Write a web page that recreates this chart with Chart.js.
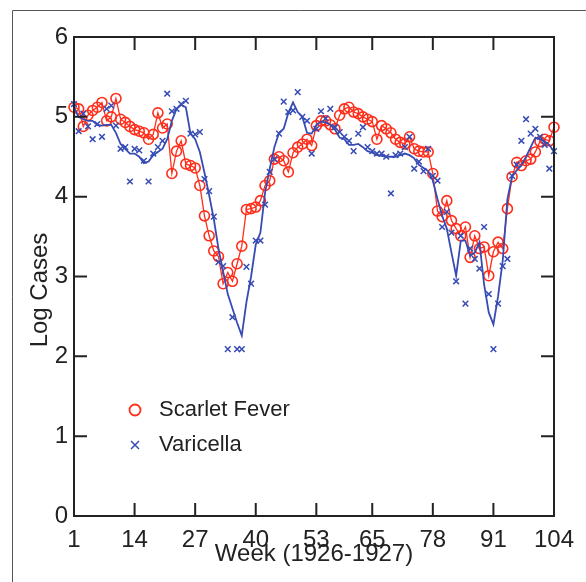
<!DOCTYPE html>
<html>
<head>
<meta charset="utf-8">
<script src="https://cdn.jsdelivr.net/npm/chart.js@4.4.1/dist/chart.umd.min.js"></script>
<style>
html, body { margin: 0; padding: 0; background: #fff; }
#wrap { position: relative; width: 586px; height: 582px; }
</style>
</head>
<body>
<div id="wrap"><canvas id="chart" width="586" height="582"></canvas></div>
<script>
// weeks 1..104 of 1926-1927
const weeks = Array.from({ length: 104 }, (_, i) => i + 1);
const xTicks = [1, 14, 27, 40, 53, 65, 78, 91, 104];
const yTicks = [0, 1, 2, 3, 4, 5, 6];

// log cases
const scarletFever = [
  5.12, 5.10, 4.88, 5.02, 5.08, 5.12, 5.18, 4.95, 5.00, 5.23,
  4.97, 4.93, 4.88, 4.84, 4.82, 4.80, 4.72, 4.78, 5.05, 4.86,
  4.91, 4.29, 4.57, 4.70, 4.41, 4.39, 4.36, 4.14, 3.76, 3.51,
  3.32, 3.25, 2.91, 3.05, 2.94, 3.16, 3.38, 3.84, 3.85, 3.87,
  3.95, 4.14, 4.20, 4.47, 4.50, 4.45, 4.31, 4.55, 4.62, 4.66,
  4.72, 4.64, 4.89, 4.95, 4.95, 4.90, 4.85, 5.02, 5.10, 5.12,
  5.06, 5.04, 5.00, 4.97, 4.94, 4.72, 4.89, 4.85, 4.80, 4.72,
  4.68, 4.66, 4.75, 4.60, 4.57, 4.56, 4.56, 4.29, 3.82, 3.75,
  3.95, 3.70, 3.60, 3.51, 3.62, 3.24, 3.51, 3.35, 3.37, 3.01,
  3.31, 3.43, 3.35, 3.85, 4.25, 4.43, 4.39, 4.45, 4.47, 4.56,
  4.69, 4.72, 4.70, 4.87
];

const varicella = [
  5.16, 4.82, 5.04, 4.88, 4.72, 4.91, 4.75, 5.10, 5.14, 4.89,
  4.60, 4.62, 4.19, 4.60, 4.58, 4.45, 4.19, 4.54, 4.62, 4.70,
  5.29, 5.07, 5.10, 5.16, 5.20, 4.79, 4.78, 4.81, 4.22, 4.07,
  3.75, 3.18, 3.13, 2.09, 2.49, 2.09, 2.09, 3.12, 2.91, 3.45,
  3.45, 3.90, 4.31, 4.47, 4.79, 5.19, 5.06, 5.08, 5.31, 5.00,
  4.95, 4.54, 4.85, 5.07, 4.98, 5.10, 4.87, 4.81, 4.75, 4.70,
  4.57, 4.79, 4.87, 4.62, 4.57, 4.54, 4.54, 4.50, 4.04, 4.52,
  4.54, 4.62, 4.75, 4.35, 4.44, 4.32, 4.60, 4.26, 4.20, 3.62,
  3.81, 3.55, 2.94, 3.51, 2.66, 3.35, 3.22, 3.10, 3.62, 2.78,
  2.09, 2.66, 3.13, 3.22, 4.26, 4.40, 4.70, 4.97, 4.79, 4.85,
  4.75, 4.65, 4.35, 4.57
];

// model curve for varicella
const varicellaFit = [
  5.12, 5.00, 4.97, 4.95, 4.95, 4.90, 4.89, 4.90, 4.90, 4.80,
  4.66, 4.60, 4.54, 4.54, 4.50, 4.42, 4.44, 4.52, 4.56, 4.60,
  4.72, 4.95, 5.10, 5.15, 5.12, 4.79, 4.72, 4.56, 4.30, 4.02,
  3.72, 3.35, 3.06, 2.78, 2.60, 2.42, 2.26, 2.68, 3.00, 3.40,
  3.55, 4.05, 4.35, 4.62, 4.80, 4.85, 5.05, 5.18, 5.06, 5.00,
  4.80, 4.79, 4.90, 4.94, 4.93, 4.90, 4.84, 4.74, 4.72, 4.65,
  4.65, 4.66, 4.62, 4.57, 4.55, 4.52, 4.51, 4.50, 4.50, 4.50,
  4.52, 4.54, 4.52, 4.48, 4.40, 4.36, 4.32, 4.20, 3.97, 3.76,
  3.60, 3.30, 3.01, 3.45, 3.45, 3.26, 3.30, 3.43, 2.90, 2.55,
  2.40, 2.75, 3.20, 3.97, 4.25, 4.33, 4.39, 4.50, 4.62, 4.74,
  4.72, 4.69, 4.65, 4.56
];

const RED = "rgb(255, 45, 25)";
const BLUE = "rgb(55, 75, 180)";
const INK = "#222";
const FONT = "'Liberation Sans', Arial, sans-serif";

const toPoints = (ys) => weeks.map((w, i) => ({ x: w, y: ys[i] }));

const boxPlugin = {
    id: "box",
    beforeDraw(chart) {
        const ctx = chart.ctx;
        ctx.save();
        ctx.fillStyle = "#fff";
        ctx.fillRect(0, 0, chart.width, chart.height);
        // outer frame of the figure (left and top edges visible)
        ctx.strokeStyle = "#555";
        ctx.lineWidth = 1;
        ctx.beginPath();
        ctx.moveTo(12.5, chart.height);
        ctx.lineTo(12.5, 10.5);
        ctx.lineTo(chart.width, 10.5);
        ctx.stroke();
        ctx.restore();
    },
    afterDatasetsDraw(chart) {
        const { ctx, chartArea: a, scales } = chart;
        const tick = 13;
        ctx.save();
        ctx.strokeStyle = INK;
        ctx.lineWidth = 2;
        ctx.strokeRect(a.left, a.top, a.right - a.left, a.bottom - a.top);
        ctx.beginPath();
        xTicks.forEach((v) => {
            const px = scales.x.getPixelForValue(v);
            ctx.moveTo(px, a.bottom);
            ctx.lineTo(px, a.bottom - tick);
            ctx.moveTo(px, a.top);
            ctx.lineTo(px, a.top + tick);
        });
        yTicks.forEach((v) => {
            const py = scales.y.getPixelForValue(v);
            ctx.moveTo(a.left, py);
            ctx.lineTo(a.left + tick, py);
            ctx.moveTo(a.right, py);
            ctx.lineTo(a.right - tick, py);
        });
        ctx.stroke();

        // y axis title
        ctx.fillStyle = INK;
        ctx.font = "24px " + FONT;
        ctx.textAlign = "center";
        ctx.textBaseline = "middle";
        ctx.translate(a.left - 34, a.top + 253);
        ctx.rotate(-Math.PI / 2);
        ctx.fillText("Log Cases", 0, 0);
        ctx.restore();

        // legend
        ctx.save();
        const lx = a.left + 61;
        const ly1 = a.top + 373;
        const ly2 = a.top + 408;
        ctx.strokeStyle = RED;
        ctx.lineWidth = 1.8;
        ctx.beginPath();
        ctx.arc(lx, ly1, 5.5, 0, Math.PI * 2);
        ctx.stroke();
        ctx.strokeStyle = BLUE;
        ctx.lineWidth = 1.5;
        ctx.beginPath();
        ctx.moveTo(lx - 4, ly2 - 4);
        ctx.lineTo(lx + 4, ly2 + 4);
        ctx.moveTo(lx - 4, ly2 + 4);
        ctx.lineTo(lx + 4, ly2 - 4);
        ctx.stroke();
        ctx.fillStyle = INK;
        ctx.font = "22px " + FONT;
        ctx.textAlign = "left";
        ctx.textBaseline = "middle";
        ctx.fillText("Scarlet Fever", lx + 24, ly1);
        ctx.fillText("Varicella", lx + 24, ly2);
        ctx.restore();
    },
};

new Chart(document.getElementById("chart"), {
    type: "line",
    data: {
        datasets: [
            {
                label: "Varicella model",
                data: toPoints(varicellaFit),
                borderColor: BLUE,
                borderWidth: 1.8,
                pointRadius: 0,
                fill: false,
                tension: 0,
                clip: false,
            },
            {
                label: "Varicella",
                data: toPoints(varicella),
                showLine: false,
                pointStyle: "crossRot",
                pointRadius: 4,
                pointBorderWidth: 1.5,
                pointBorderColor: BLUE,
                borderColor: BLUE,
                clip: false,
            },
            {
                label: "Scarlet Fever",
                data: toPoints(scarletFever),
                borderColor: RED,
                borderWidth: 1.3,
                pointStyle: "circle",
                pointRadius: 5,
                pointBorderWidth: 1.6,
                pointBorderColor: RED,
                pointBackgroundColor: "rgba(255,255,255,0)",
                fill: false,
                tension: 0,
                clip: false,
            },
        ],
    },
    options: {
        responsive: false,
        animation: false,
        layout: {
            padding: { left: 0, top: 37, right: 32, bottom: 13 },
        },
        plugins: {
            legend: { display: false },
            tooltip: { enabled: false },
        },
        scales: {
            x: {
                type: "linear",
                min: 1,
                max: 104,
                afterFit: (s) => { s.height = 53; },
                afterBuildTicks: (s) => { s.ticks = xTicks.map((v) => ({ value: v })); },
                grid: { display: false, drawTicks: false },
                border: { display: false },
                ticks: {
                    autoSkip: false,
                    maxRotation: 0,
                    padding: 10,
                    color: INK,
                    font: { family: FONT, size: 24 },
                },
                title: {
                    display: true,
                    text: "Week (1926-1927)",
                    color: INK,
                    font: { family: FONT, size: 24 },
                    padding: { top: 0, bottom: 0 },
                },
            },
            y: {
                min: 0,
                max: 6,
                afterFit: (s) => { s.width = 74; },
                afterBuildTicks: (s) => { s.ticks = yTicks.map((v) => ({ value: v })); },
                grid: { display: false, drawTicks: false },
                border: { display: false },
                ticks: {
                    padding: 6,
                    color: INK,
                    font: { family: FONT, size: 24 },
                },
            },
        },
    },
    plugins: [boxPlugin],
});
</script>
</body>
</html>
